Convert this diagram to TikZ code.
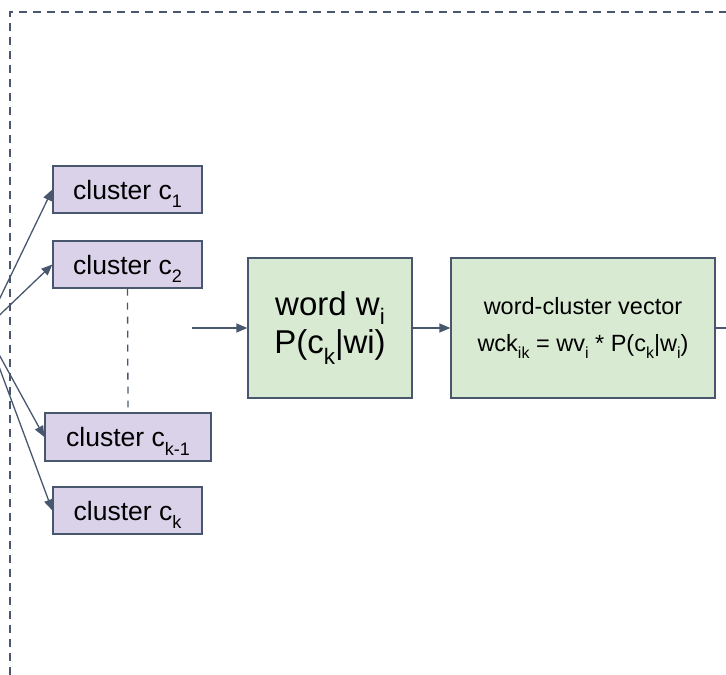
\documentclass[tikz,border=0pt]{standalone}
\usepackage{fontspec}
\setmainfont{Liberation Sans}
\usetikzlibrary{arrows.meta}
\definecolor{edge}{RGB}{72,87,110}
\definecolor{lilac}{RGB}{217,210,233}
\definecolor{mint}{RGB}{217,234,211}
% lowered, smaller index as used in the labels
\newcommand\lowidx[1]{\raisebox{-0.32em}{\scalebox{0.68}{#1}}}
\tikzset{
  box/.style={draw=edge, line width=1.3pt, inner sep=0pt, align=center, text=black},
  clusterbox/.style={box, fill=lilac, minimum width=149pt, minimum height=47pt,
    text depth=0pt, font=\fontsize{26.5}{30}\selectfont},
  stagebox/.style={box, fill=mint, minimum height=140pt},
  link/.style={draw=edge, line width=1.3pt, -{Triangle[length=11pt,width=9pt]}},
  frame/.style={draw=edge, line width=1.3pt, dash pattern=on 8pt off 6pt},
  gap/.style={draw=edge, line width=1.3pt, dash pattern=on 7pt off 7pt}
}
\begin{document}
\begin{tikzpicture}[x=1pt, y=-1pt]
  \useasboundingbox (0,0) rectangle (726,675);
  \clip (0,0) rectangle (726,675);

  % outer dashed frame
  \coordinate (fA) at (10,675);
  \coordinate (fB) at (10,12);
  \coordinate (fC) at (730,12);
  \draw[frame] (fA) -- (fB) -- (fC);

  % cluster boxes
  \node[clusterbox] (c1) at (127.5,189.5) {cluster c\lowidx{1}};
  \node[clusterbox] (c2) at (127.5,264.5) {cluster c\lowidx{2}};
  \node[clusterbox, minimum width=166pt, minimum height=48pt] (ck1) at (128,437) {cluster c\lowidx{k-1}};
  \node[clusterbox] (ck) at (127.5,510.5) {cluster c\lowidx{k}};

  % elided clusters
  \draw[gap] (c2.south) -- ([yshift=5pt]ck1.north);

  % shared source to the left
  \coordinate (src) at (-15,329);
  \draw[link] (src) -- (c1.west);
  \draw[link] (src) -- (c2.west);
  \draw[link] (src) -- (ck1.west);
  \draw[link] (src) -- (ck.west);

  % processing stages
  \node[stagebox, minimum width=164pt, font=\fontsize{33}{39}\selectfont] (word) at (330,328)
    {word w\raisebox{-0.26em}{\scalebox{0.68}{i}}\\[-1pt]P(c\lowidx{k}|wi)};
  \node[stagebox, minimum width=264pt, font=\fontsize{23.5}{36}\selectfont] (vec) at (583,328)
    {word-cluster vector\\[1pt]wck\lowidx{ik} = wv\lowidx{i} * P(c\lowidx{k}|w\lowidx{i})};

  \coordinate (inA) at (192,328);
  \coordinate (outB) at (740,328);
  \draw[link] (inA) -- (word.west);
  \draw[link] (word) -- (vec);
  \draw[draw=edge, line width=1.3pt] (vec.east) -- (outB);
\end{tikzpicture}
\end{document}
